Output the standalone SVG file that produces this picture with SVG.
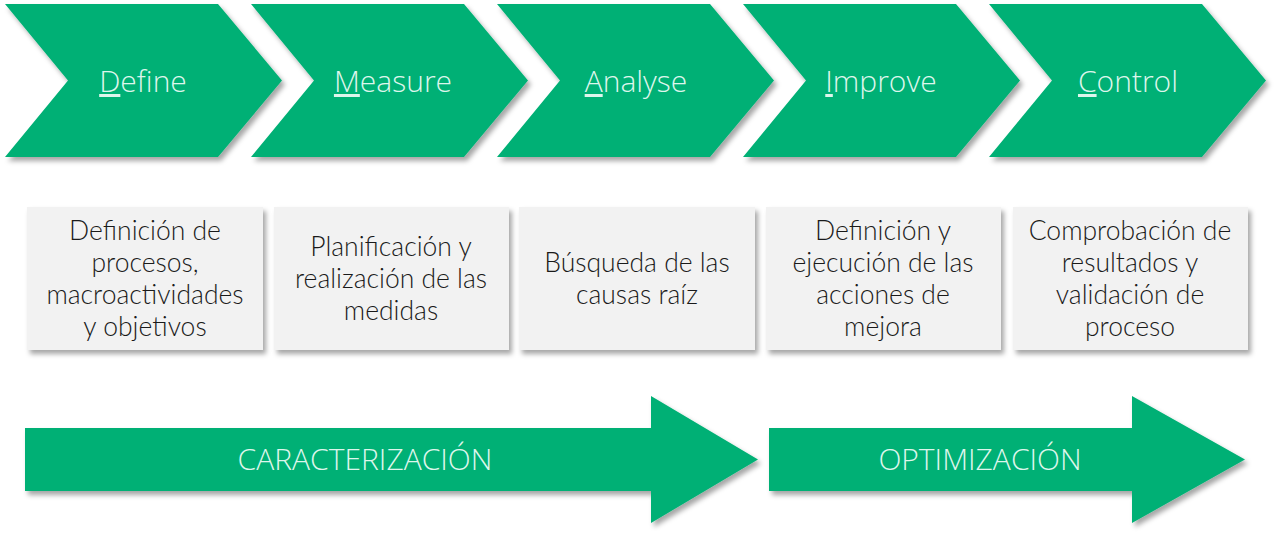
<svg xmlns="http://www.w3.org/2000/svg" width="1280" height="537" viewBox="0 0 1280 537">
<defs>
<filter id="sh" x="-5%" y="-10%" width="115%" height="130%">
<feDropShadow dx="3" dy="4" stdDeviation="2.5" flood-color="#000" flood-opacity="0.35"/>
</filter>
<polygon id="chev" points="0,0 213,0 277,76.5 213,153 0,153 63,76.5"/>
</defs>
<style>
.g{fill:#03B075;filter:url(#sh)}
.box{fill:#F2F2F2;filter:url(#sh)}
.ct{font-family:"Open Sans","Noto Sans",sans-serif;font-weight:300;font-size:30px;fill:#DDF6EC;text-anchor:middle}
.u{text-decoration:underline}
.bt{font-family:Lato,"Open Sans",sans-serif;font-weight:300;font-size:26.5px;fill:#1A1A1A;text-anchor:middle}
</style>
<rect width="1280" height="537" fill="#fff"/>
<g id="define">
<use href="#chev" x="5" y="4" class="g"/>
<text class="ct" x="143" y="92"><tspan class="u">D</tspan>efine</text>
</g>
<g id="measure">
<use href="#chev" x="251" y="4" class="g"/>
<text class="ct" x="393" y="92"><tspan class="u">M</tspan>easure</text>
</g>
<g id="analyse">
<use href="#chev" x="497" y="4" class="g"/>
<text class="ct" x="636" y="92"><tspan class="u">A</tspan>nalyse</text>
</g>
<g id="improve">
<use href="#chev" x="743" y="4" class="g"/>
<text class="ct" x="881" y="92"><tspan class="u">I</tspan>mprove</text>
</g>
<g id="control">
<use href="#chev" x="989" y="4" class="g"/>
<text class="ct" x="1128" y="92"><tspan class="u">C</tspan>ontrol</text>
</g>
<g id="box-define">
<rect class="box" x="27" y="207" width="236" height="143"/>
<text class="bt" x="145"><tspan x="145" y="240">Definición de</tspan><tspan x="145" y="272">procesos,</tspan><tspan x="145" y="304">macroactividades</tspan><tspan x="145" y="336">y objetivos</tspan></text>
</g>
<g id="box-measure">
<rect class="box" x="274" y="207" width="235" height="143"/>
<text class="bt" x="391"><tspan x="391" y="256">Planificación y</tspan><tspan x="391" y="288">realización de las</tspan><tspan x="391" y="320">medidas</tspan></text>
</g>
<g id="box-analyse">
<rect class="box" x="519" y="207" width="236" height="143"/>
<text class="bt" x="637"><tspan x="637" y="272">Búsqueda de las</tspan><tspan x="637" y="304">causas raíz</tspan></text>
</g>
<g id="box-improve">
<rect class="box" x="766" y="207" width="235" height="143"/>
<text class="bt" x="883"><tspan x="883" y="240">Definición y</tspan><tspan x="883" y="272">ejecución de las</tspan><tspan x="883" y="304">acciones de</tspan><tspan x="883" y="336">mejora</tspan></text>
</g>
<g id="box-control">
<rect class="box" x="1013" y="207" width="235" height="143"/>
<text class="bt" x="1130"><tspan x="1130" y="240">Comprobación de</tspan><tspan x="1130" y="272">resultados y</tspan><tspan x="1130" y="304">validación de</tspan><tspan x="1130" y="336">proceso</tspan></text>
</g>
<g id="caracterizacion">
<polygon class="g" points="25,428 651,428 651,396 758,459.5 651,523 651,491 25,491"/>
<text class="ct" x="365" y="470">CARACTERIZACIÓN</text>
</g>
<g id="optimizacion">
<polygon class="g" points="769,428 1132,428 1132,396 1245,459.5 1132,523 1132,491 769,491"/>
<text class="ct" x="980" y="470">OPTIMIZACIÓN</text>
</g>
<g id="connectors"/>
</svg>
